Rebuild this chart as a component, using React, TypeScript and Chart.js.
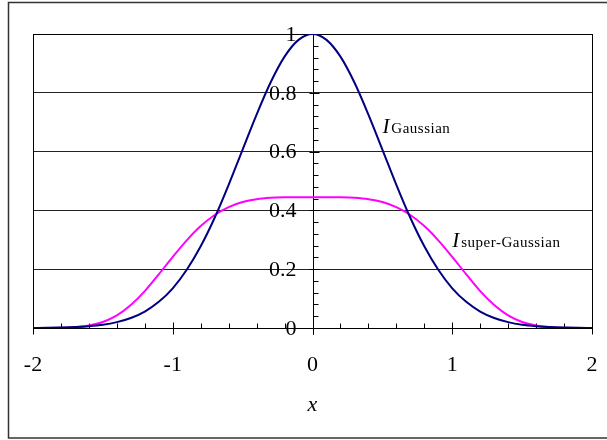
import React, { useEffect, useRef } from "react";
import { Chart, registerables } from "chart.js";

Chart.register(...registerables);

const xValues = [
  -2, -1.9, -1.8, -1.7, -1.6, -1.5, -1.4, -1.3, -1.2, -1.1, -1, -0.9, -0.8, -0.7, -0.6, -0.5, -0.4, -0.3, -0.2, -0.1,
  0, 0.1, 0.2, 0.3, 0.4, 0.5, 0.6, 0.7, 0.8, 0.9, 1, 1.1, 1.2, 1.3, 1.4, 1.5, 1.6, 1.7, 1.8, 1.9, 2,
];

const gaussian = [
  0.0003, 0.0007, 0.0015, 0.003, 0.006, 0.011, 0.02, 0.034, 0.056, 0.089, 0.135, 0.198, 0.278, 0.375, 0.487, 0.607,
  0.726, 0.835, 0.923, 0.98, 1.0, 0.98, 0.923, 0.835, 0.726, 0.607, 0.487, 0.375, 0.278, 0.198, 0.135, 0.089, 0.056,
  0.034, 0.02, 0.011, 0.006, 0.003, 0.0015, 0.0007, 0.0003,
];

const superGaussian = [
  0, 0.0002, 0.0007, 0.0027, 0.0082, 0.0203, 0.0428, 0.0781, 0.1254, 0.1825, 0.242, 0.2983, 0.3467, 0.3844, 0.4112,
  0.4284, 0.4381, 0.4428, 0.4446, 0.445, 0.445, 0.445, 0.4446, 0.4428, 0.4381, 0.4284, 0.4112, 0.3844, 0.3467, 0.2983,
  0.242, 0.1825, 0.1254, 0.0781, 0.0428, 0.0203, 0.0082, 0.0027, 0.0007, 0.0002, 0,
];

const xTickValues = [-2, -1, 0, 1, 2];
const yTickLabels = ["0", "0.2", "0.4", "0.6", "0.8", "1"];
const yTickValues = [0, 0.2, 0.4, 0.6, 0.8, 1];

const seriesLabels = [
  { main: "I", sub: "Gaussian", x: 0.5, y: 0.663 },
  { main: "I", sub: "super-Gaussian", x: 1.0, y: 0.2755 },
];

const SERIF = "'Liberation Serif', 'Times New Roman', serif";

const decorPlugin = {
  id: "decor",
  beforeDatasetsDraw(chart: any) {
    const { ctx, chartArea } = chart;
    const xs = chart.scales.x;
    const ys = chart.scales.y;
    const x0 = Math.round(xs.getPixelForValue(0)) + 0.5;
    const y0 = Math.round(ys.getPixelForValue(0)) + 0.5;
    ctx.save();
    ctx.strokeStyle = "#000";
    ctx.lineWidth = 1;
    ctx.strokeRect(
      Math.round(chartArea.left) + 0.5,
      Math.round(chartArea.top) + 0.5,
      Math.round(chartArea.right - chartArea.left),
      Math.round(chartArea.bottom - chartArea.top)
    );
    ctx.beginPath();
    ctx.moveTo(chartArea.left, y0);
    ctx.lineTo(chartArea.right, y0);
    ctx.moveTo(x0, Math.round(ys.getPixelForValue(1)));
    ctx.lineTo(x0, y0 + 6);
    for (let i = 0; i <= 25; i++) {
      const py = Math.round(ys.getPixelForValue(i * 0.04)) + 0.5;
      if (i % 5 === 0) {
        ctx.moveTo(x0 - 4, py);
        ctx.lineTo(x0 + 6, py);
      } else {
        ctx.moveTo(x0, py);
        ctx.lineTo(x0 + 5, py);
      }
    }
    for (let i = 0; i <= 20; i++) {
      const v = -2 + i * 0.2;
      const px = Math.round(xs.getPixelForValue(v)) + 0.5;
      if (i % 5 === 0) {
        ctx.moveTo(px, y0 - 6);
        ctx.lineTo(px, y0 + 6);
      } else {
        ctx.moveTo(px, y0 - 5);
        ctx.lineTo(px, y0);
      }
    }
    ctx.stroke();
    ctx.fillStyle = "#000";
    ctx.font = `22px ${SERIF}`;
    ctx.textAlign = "right";
    ctx.textBaseline = "middle";
    yTickValues.forEach((v, i) => {
      ctx.fillText(yTickLabels[i], x0 - 17, ys.getPixelForValue(v) + 1);
    });
    ctx.restore();
  },
  afterDraw(chart: any) {
    const { ctx } = chart;
    const xs = chart.scales.x;
    const ys = chart.scales.y;
    ctx.save();
    ctx.strokeStyle = "#333";
    ctx.lineWidth = 1.5;
    ctx.strokeRect(8.5, 2.5, 610, 435.5);
    ctx.fillStyle = "#000";
    ctx.textAlign = "left";
    ctx.textBaseline = "alphabetic";
    seriesLabels.forEach((l) => {
      const px = xs.getPixelForValue(l.x);
      const py = ys.getPixelForValue(l.y);
      ctx.font = `italic 21px ${SERIF}`;
      ctx.fillText(l.main, px, py);
      const w = ctx.measureText(l.main).width;
      ctx.font = `15px ${SERIF}`;
      (ctx as any).letterSpacing = "0.5px";
      ctx.fillText(l.sub, px + w + 2, py);
      (ctx as any).letterSpacing = "0px";
    });
    ctx.restore();
  },
};

export default function App() {
  const canvasRef = useRef<HTMLCanvasElement | null>(null);

  useEffect(() => {
    document.body.style.margin = "0";
    const canvas = canvasRef.current;
    if (!canvas) return;
    const chart = new Chart(canvas, {
      type: "line",
      data: {
        labels: xValues,
        datasets: [
          {
            label: "Gaussian",
            data: xValues.map((x, i) => ({ x, y: gaussian[i] })),
            borderColor: "#000080",
            borderWidth: 2,
            pointRadius: 0,
            cubicInterpolationMode: "monotone",
            fill: false,
          },
          {
            label: "super-Gaussian",
            data: xValues.map((x, i) => ({ x, y: superGaussian[i] })),
            borderColor: "#FF00FF",
            borderWidth: 2,
            pointRadius: 0,
            cubicInterpolationMode: "monotone",
            fill: false,
          },
        ],
      },
      options: {
        responsive: false,
        animation: false,
        devicePixelRatio: 1,
        layout: { padding: { left: 33, top: 34, right: 15, bottom: 0 } },
        plugins: { legend: { display: false }, tooltip: { enabled: false } },
        scales: {
          x: {
            type: "linear",
            position: "bottom",
            min: -2,
            max: 2,
            afterBuildTicks: (s: any) => {
              s.ticks = xTickValues.map((v) => ({ value: v }));
            },
            ticks: {
              font: { family: SERIF, size: 22 },
              color: "#000",
              padding: 24,
              maxRotation: 0,
              autoSkip: false,
            },
            grid: { display: false, drawTicks: false },
            border: { display: false },
            title: {
              display: true,
              text: "x",
              color: "#000",
              font: { family: SERIF, size: 22, style: "italic" },
              padding: { top: 0, bottom: 22 },
            },
            afterFit: (s: any) => {
              s.height = 112;
              s.paddingLeft = 0;
              s.paddingRight = 0;
            },
          },
          y: {
            type: "linear",
            min: 0,
            max: 1,
            afterBuildTicks: (s: any) => {
              s.ticks = yTickValues.map((v) => ({ value: v }));
            },
            ticks: { display: false },
            grid: { color: "#222", lineWidth: 1, drawTicks: false },
            border: { display: false },
            afterFit: (s: any) => {
              s.width = 0;
              s.paddingTop = 0;
              s.paddingBottom = 0;
            },
          },
        },
      },
      plugins: [decorPlugin],
    } as any);
    return () => chart.destroy();
  }, []);

  return (
    <div style={{ position: "absolute", left: 0, top: 0, width: 607, height: 440 }}>
      <canvas ref={canvasRef} width={607} height={440} />
    </div>
  );
}
